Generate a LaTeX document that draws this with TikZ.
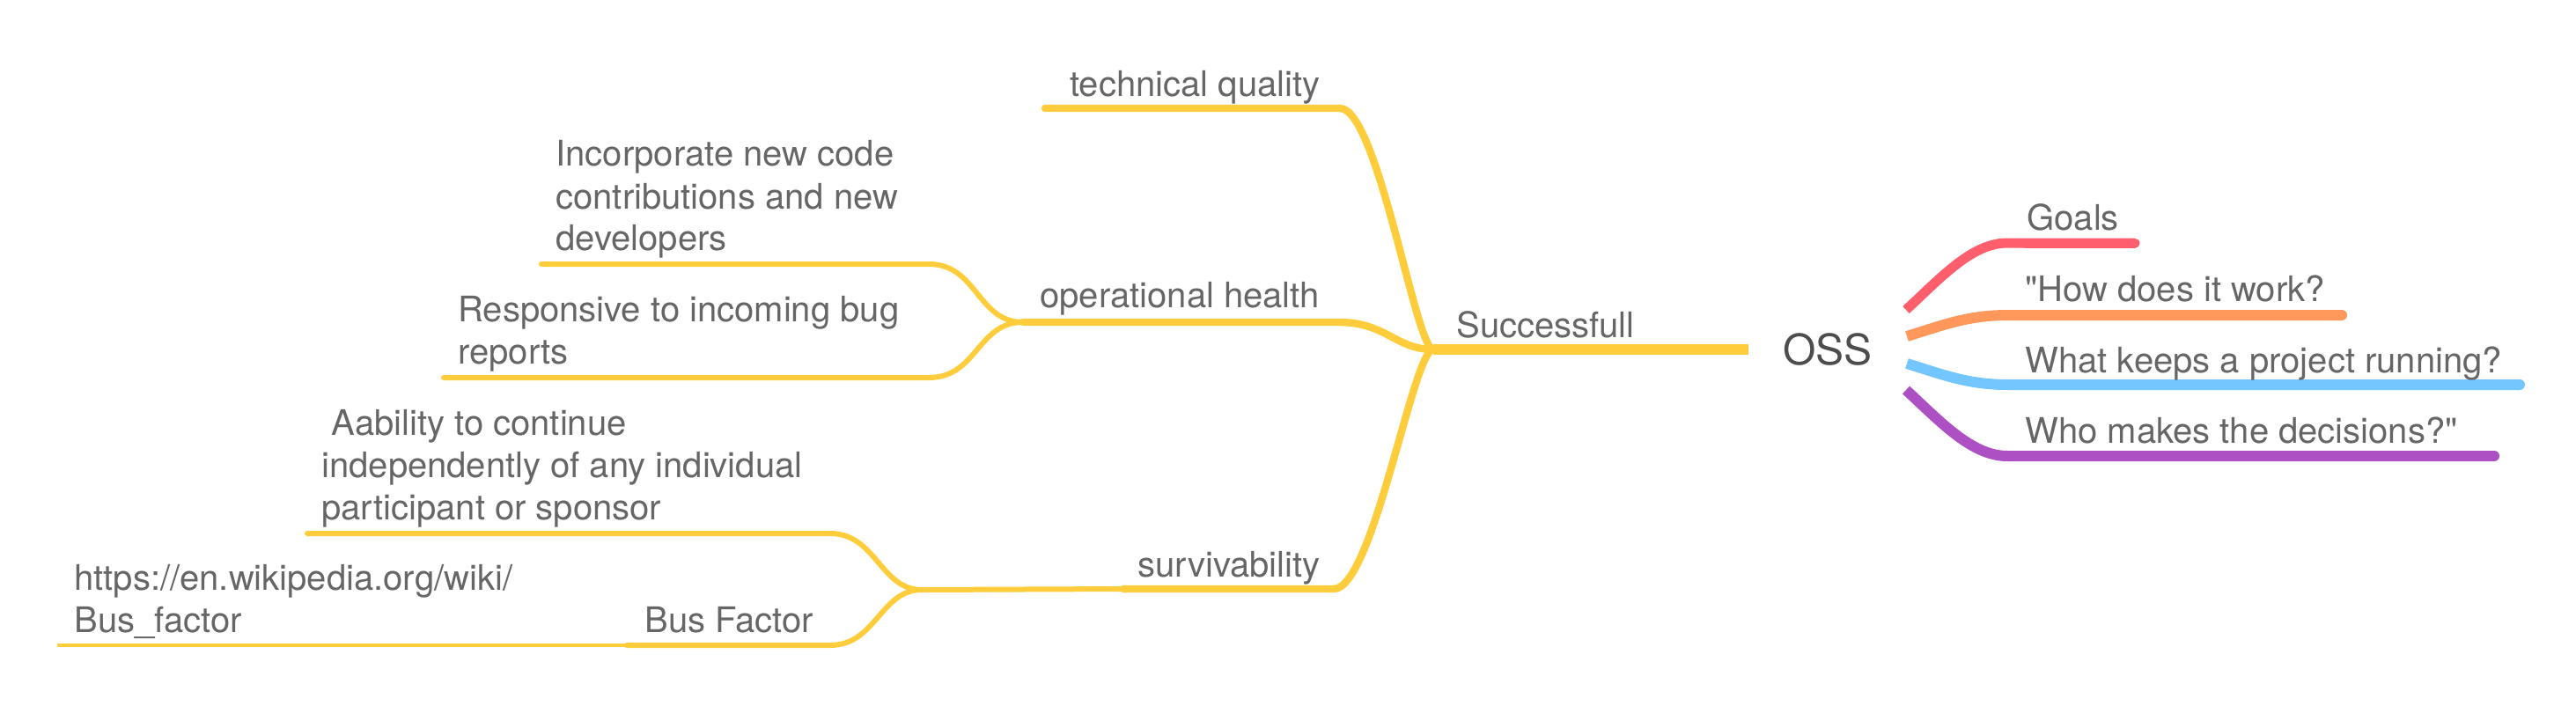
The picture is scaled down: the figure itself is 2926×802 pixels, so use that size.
\documentclass[tikz,border=0pt]{standalone}
\usepackage{fontspec}
\setmainfont{TeX Gyre Heros}
\definecolor{ylw}{HTML}{FFCC3C}
\definecolor{redc}{HTML}{FF5E6C}
\definecolor{orac}{HTML}{FF985A}
\definecolor{bluc}{HTML}{73C6FF}
\definecolor{purc}{HTML}{AC50C4}
\definecolor{txt}{HTML}{666666}
\definecolor{ossc}{HTML}{4D4D4D}
\newcommand{\sq}{{\addfontfeatures{Ligatures=TeXOff}"}}
\tikzset{
  lbl/.style={anchor=base west, inner sep=0pt, text=txt, align=left,
    font=\fontsize{20pt}{24pt}\selectfont},
  lvone/.style={line width=6pt, line cap=butt},
  lvtwo/.style={draw=ylw, line width=4.2pt, line cap=round},
  lvthree/.style={draw=ylw, line width=3pt, line cap=round},
  lvfour/.style={draw=ylw, line width=2.2pt, line cap=round},
}
\begin{document}
\begin{tikzpicture}[x=0.5pt,y=-0.5pt]
\useasboundingbox (0,0) rectangle (2926,802);
% ---- key points
\coordinate (J) at (1628,397);
\coordinate (sEnd) at (1986,397);
\coordinate (tqC) at (1522,123);
\coordinate (tqL) at (1187,123);
\coordinate (ohC) at (1520,366);
\coordinate (F1) at (1162,366);
\coordinate (svC) at (1515,669);
\coordinate (svL) at (1276,669);
\coordinate (F2) at (1047,670);
\coordinate (inC) at (1055,300);
\coordinate (inL) at (615,300);
\coordinate (rsC) at (1055,429);
\coordinate (rsL) at (504,429);
\coordinate (abC) at (943,606);
\coordinate (abL) at (349,606);
\coordinate (bfC) at (943,733);
\coordinate (bfL) at (712,733);
\coordinate (htL) at (67,733);
% right side starts
\coordinate (rS) at (2165,352);
\coordinate (oS) at (2166,382);
\coordinate (bS) at (2166,413);
\coordinate (pS) at (2165,443);
\coordinate (rE) at (2425,276);
\coordinate (oE) at (2660,358);
\coordinate (bE) at (2862,437);
\coordinate (pE) at (2833,518);

% ---- right branches
\draw[lvone, draw=redc, line width=5.5pt] (rS) .. controls (2205,315) and (2240,276) .. (2280,276) -- (rE);
\draw[redc, line width=5.5pt, line cap=round] (2300,276) -- (rE);
\draw[lvone, draw=orac] (oS) .. controls (2205,370) and (2235,358) .. (2280,358) -- (oE);
\draw[orac, line width=6pt, line cap=round] (2300,358) -- (oE);
\draw[lvone, draw=bluc] (bS) .. controls (2205,425) and (2235,437) .. (2280,437) -- (bE);
\draw[bluc, line width=6pt, line cap=round] (2300,437) -- (bE);
\draw[lvone, draw=purc] (pS) .. controls (2205,480) and (2240,518) .. (2280,518) -- (pE);
\draw[purc, line width=6pt, line cap=round] (2300,518) -- (pE);

% ---- main left branch
\draw[lvone, draw=ylw] (J) -- (sEnd);
\draw[lvtwo] (tqL) -- (tqC) .. controls (1565,123) and (1608,397) .. (J);
\draw[lvtwo] (F1) -- (ohC) .. controls (1575,366) and (1585,397) .. (J);
\draw[lvtwo] (svL) -- (svC) .. controls (1560,669) and (1605,397) .. (J);
\draw[lvthree] (F2) -- (svL);
% operational health children
\draw[lvthree] (inL) -- (inC) .. controls (1110,300) and (1110,366) .. (F1);
\draw[lvthree] (rsL) -- (rsC) .. controls (1110,429) and (1110,366) .. (F1);
% survivability children
\draw[lvthree] (abL) -- (abC) .. controls (995,606) and (1000,670) .. (F2);
\draw[lvthree] (bfL) -- (bfC) .. controls (995,733) and (1000,670) .. (F2);
\draw[lvfour] (htL) -- (bfL);

% ---- texts (multi-line nodes are anchored at their last baseline)
\node[inner sep=0pt, text=ossc, font=\fontsize{24pt}{28pt}\selectfont] (oss) at (2076,397) {OSS};
\node[lbl] (succ) at (1654,383) {Successfull};
\node[lbl] (tq) at (1215,110) {technical quality};
\node[lbl] (oh) at (1181,349) {operational health};
\node[lbl] (sv) at (1292,655) {survivability};
\node[lbl] (inc) at (631,285) {Incorporate new code\\contributions and new\\developers};
\node[lbl] (rsp) at (520,413) {Responsive to incoming bug\\reports};
\node[lbl] (abl) at (365,590) {\ Aability to continue\\independently of any individual\\participant or sponsor};
\node[lbl] (htp) at (84,718) {https://en.wikipedia.org/wiki/\\Bus\_factor};
\node[lbl] (bf) at (732,718) {Bus Factor};
\node[lbl] (goals) at (2302,262) {Goals};
\node[lbl] (how) at (2300,342) {\sq How does it work?};
\node[lbl] (keep) at (2300,423) {What keeps a project running?};
\node[lbl] (who) at (2300,503) {Who makes the decisions?\sq};
\end{tikzpicture}
\end{document}
